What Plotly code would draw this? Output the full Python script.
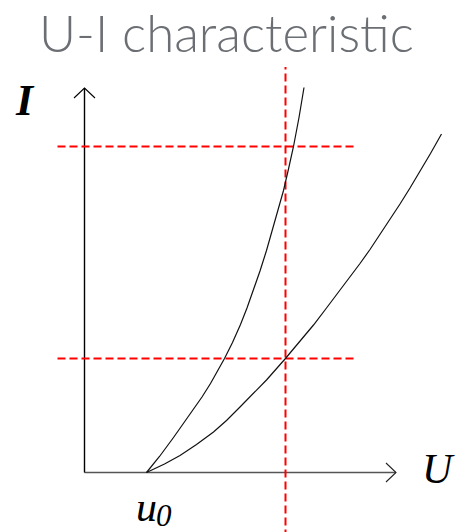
import plotly.graph_objects as go

# ---- data (U and I in arbitrary units) ----
u0 = 6.2
curve1_U = [6.2, 7.5, 8.9, 9.9, 10.9, 11.75, 12.6, 13.3, 14.0, 14.8, 15.6, 16.25, 16.9,
            17.55, 18.2, 19.05, 19.9, 20.4, 20.9, 21.45, 21.95]
curve1_I = [0, 1.6, 3.5, 4.88, 6.3, 7.55, 8.9, 10.1, 11.4, 13.0, 14.8, 16.45, 18.2,
            20.15, 22.2, 25.1, 28.2, 30.35, 32.6, 35.5, 38.5]
curve2_U = [6.2, 8.0, 9.55, 11.2, 12.9, 14.2, 15.55, 16.9, 18.2, 20.05, 21.45, 22.9, 24.2,
            25.55, 26.55, 27.55, 28.55, 29.55, 30.55, 31.55, 32.55, 33.55, 34.6, 35.7]
curve2_I = [0, 0.85, 1.7, 2.8, 4.05, 5.2, 6.55, 7.9, 9.25, 11.35, 13.0, 14.75, 16.45,
            18.2, 19.5, 20.9, 22.3, 23.8, 25.3, 26.85, 28.45, 30.1, 31.9, 33.85]

u_ref = 20.1           # vertical reference voltage
i_refs = [32.6, 11.4]  # horizontal reference currents
h_ref_span = [-2.7, 27.1]
v_ref_span = [-6.5, 40.55]

x_axis_end = 31.15
y_axis_end = 38.45

title_text = "U-I characteristic"

W, H = 456, 532

fig = go.Figure()

# axes
fig.add_trace(go.Scatter(x=[0, x_axis_end], y=[0, 0], mode="lines",
                         line=dict(color="#555555", width=1.6), hoverinfo="skip"))
fig.add_trace(go.Scatter(x=[x_axis_end - 1.0, x_axis_end, x_axis_end - 1.0], y=[0.95, 0, -0.95],
                         mode="lines", line=dict(color="#222222", width=1.1), hoverinfo="skip"))
fig.add_trace(go.Scatter(x=[0, 0], y=[0, y_axis_end], mode="lines",
                         line=dict(color="#000000", width=1.4), hoverinfo="skip"))
fig.add_trace(go.Scatter(x=[-1.05, 0, 1.05], y=[y_axis_end - 1.0, y_axis_end, y_axis_end - 1.0],
                         mode="lines", line=dict(color="#000000", width=1.1), hoverinfo="skip"))

# reference lines
for iv in i_refs:
    fig.add_trace(go.Scatter(x=h_ref_span, y=[iv, iv], mode="lines",
                             line=dict(color="#ff0000", width=2, dash="8px,4px"), hoverinfo="skip"))
fig.add_trace(go.Scatter(x=[u_ref, u_ref], y=v_ref_span, mode="lines",
                         line=dict(color="#ff0000", width=2, dash="8px,4px"), hoverinfo="skip"))

# curves
fig.add_trace(go.Scatter(x=curve1_U, y=curve1_I, mode="lines",
                         line=dict(color="#111111", width=1.2, shape="linear"),
                         hoverinfo="skip"))
fig.add_trace(go.Scatter(x=curve2_U, y=curve2_I, mode="lines",
                         line=dict(color="#111111", width=1.2, shape="linear"),
                         hoverinfo="skip"))

serif = "Liberation Serif"
fig.add_annotation(x=-5.95, y=37.2, text="<b><i>I</i></b>", showarrow=False,
                   font=dict(family=serif, size=44, color="#000000"))
fig.add_annotation(x=35.4, y=0.35, text="<i>U</i>", showarrow=False,
                   font=dict(family=serif, size=42, color="#000000"))
fig.add_annotation(x=6.15, y=-3.45, text="<i>u</i>", showarrow=False, xanchor="center",
                   font=dict(family=serif, size=42, color="#000000"))
fig.add_annotation(x=7.9, y=-4.3, text="<i>0</i>", showarrow=False, xanchor="center",
                   font=dict(family=serif, size=31, color="#000000"))

fig.add_annotation(x=226 / W, y=1 - 32 / H, xref="paper", yref="paper", text=title_text,
                   showarrow=False, xanchor="center", yanchor="middle",
                   font=dict(family="Lato", size=51, color="#6b6e73", weight=300))

fig.update_layout(
    width=W, height=H,
    margin=dict(l=0, r=0, t=0, b=0),
    paper_bgcolor="white", plot_bgcolor="white",
    showlegend=False,
    xaxis=dict(range=[-8.45, 37.15], visible=False, fixedrange=True),
    yaxis=dict(range=[-5.95, 47.25], visible=False, fixedrange=True),
)

fig.write_html("out.html", config={"displayModeBar": False},
               post_script="document.body.style.margin='0';document.body.style.overflow='hidden';")
